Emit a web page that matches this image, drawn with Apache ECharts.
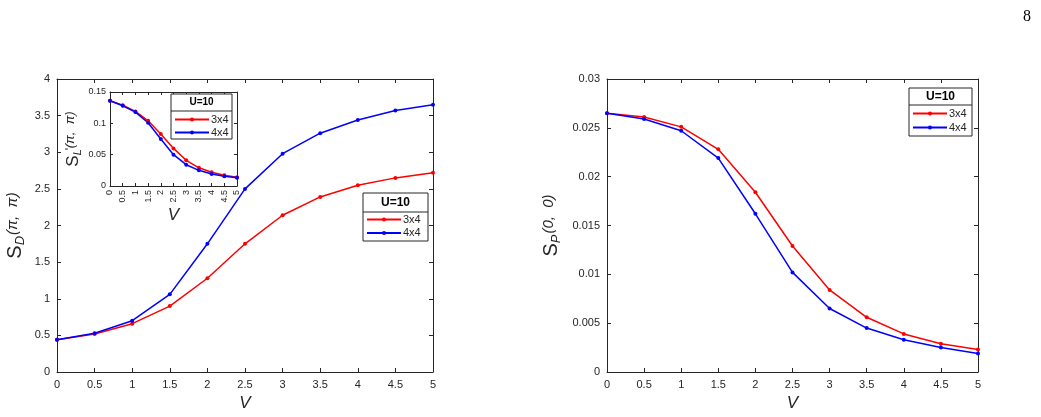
<!DOCTYPE html>
<html lang="en">
<head>
    <meta charset="UTF-8">
    <title>S_D and S_P vs V</title>
    <script src="https://cdn.jsdelivr.net/npm/echarts@6/dist/echarts.min.js"></script>
    <style>
        html, body { margin: 0; padding: 0; background: #fff; }
    </style>
</head>
<body>
    <div id="container" style="width: 1041px; height: 417px;"></div>

    <script>
        // V values shared by every panel
        var vValues = [0, 0.5, 1, 1.5, 2, 2.5, 3, 3.5, 4, 4.5, 5];

        // left main panel S_D(pi, pi)
        var sd3x4 = [0.44, 0.52, 0.66, 0.90, 1.28, 1.75, 2.14, 2.39, 2.55, 2.65, 2.72];
        var sd4x4 = [0.44, 0.53, 0.70, 1.06, 1.75, 2.50, 2.98, 3.26, 3.44, 3.57, 3.65];

        // inset S'_L(pi, pi)
        var sl3x4 = [0.136, 0.129, 0.119, 0.104, 0.083, 0.060, 0.041, 0.029, 0.022, 0.017, 0.014];
        var sl4x4 = [0.136, 0.128, 0.118, 0.101, 0.075, 0.050, 0.034, 0.025, 0.019, 0.0155, 0.013];

        // right panel S_P(0, 0)
        var sp3x4 = [0.0265, 0.0261, 0.0251, 0.0228, 0.0184, 0.0129, 0.0084, 0.0056, 0.0039, 0.0029, 0.0023];
        var sp4x4 = [0.0265, 0.0259, 0.0247, 0.0219, 0.0162, 0.0102, 0.0065, 0.0045, 0.0033, 0.0025, 0.0019];

        var seriesNames = ['3x4', '4x4'];
        var legendTitle = 'U=10';

        var font = 'Liberation Sans, Arial, sans-serif';
        var ink = '#262626';
        var red = '#ff0000';
        var blue = '#0000ff';

        function pairs(ys) {
            return vValues.map(function (v, i) { return [v, ys[i]]; });
        }

        // one value axis, with ticks pointing in (MATLAB box look)
        function axis(grid, pos, min, max, step, showLabel, extra) {
            var a = {
                type: 'value',
                gridIndex: grid,
                position: pos,
                min: min,
                max: max,
                interval: step,
                splitLine: { show: false },
                axisLine: { show: true, onZero: false, lineStyle: { color: ink, width: 1 } },
                axisTick: { show: true, inside: true, length: 4, lineStyle: { color: ink } },
                axisLabel: { show: showLabel, color: ink, fontSize: 11, fontFamily: font, margin: 7 }
            };
            for (var k in extra) a[k] = extra[k];
            return a;
        }

        function line(name, color, xi, yi, ys, z) {
            return {
                name: name,
                type: 'line',
                xAxisIndex: xi,
                yAxisIndex: yi,
                data: pairs(ys),
                symbol: 'circle',
                symbolSize: 4,
                color: color,
                lineStyle: { color: color, width: 1.5 },
                itemStyle: { color: color },
                animation: false,
                z: z
            };
        }

        function legend(left, top, gap) {
            return {
                data: seriesNames,
                orient: 'vertical',
                left: left,
                top: top,
                itemWidth: 34,
                itemHeight: 5,
                itemGap: gap,
                padding: 0,
                z: 100,
                selectedMode: false,
                textStyle: { color: ink, fontSize: 11, fontFamily: font, padding: [0, 0, 0, -3] }
            };
        }

        // frame, title and separator round a legend
        function legendBox(x, y, w, h, sepY, fs) {
            return [{
                type: 'rect',
                shape: { x: x, y: y, width: w, height: h },
                style: { fill: '#fff', stroke: ink, lineWidth: 1 },
                z: 50
            }, {
                type: 'line',
                shape: { x1: x, y1: sepY, x2: x + w, y2: sepY },
                style: { stroke: ink, lineWidth: 1 },
                z: 51
            }, {
                type: 'text',
                x: x + w / 2,
                y: (y + sepY) / 2,
                style: {
                    text: legendTitle, fill: '#000', font: 'bold ' + fs + 'px ' + font,
                    textAlign: 'center', textVerticalAlign: 'middle'
                },
                z: 51
            }];
        }

        var myChart = echarts.init(document.getElementById('container'), null, { renderer: 'canvas' });

        var titleRich = {
            s: { fontSize: 20, fontFamily: font, color: ink },
            sub: { fontSize: 13, fontFamily: font, fontStyle: 'italic', color: ink, padding: [10, 0, 0, 0] },
            p: { fontSize: 15, fontFamily: font, fontStyle: 'italic', color: ink, padding: [0, 0, 6, 1] }
        };
        var insetRich = {
            s: { fontSize: 17, fontFamily: font, color: ink },
            sub: { fontSize: 11, fontFamily: font, fontStyle: 'italic', color: ink, padding: [9, 0, 0, 0] },
            p: { fontSize: 13, fontFamily: font, fontStyle: 'italic', color: ink, padding: [0, 0, 6, 1] }
        };

        var option = {
            backgroundColor: '#fff',
            animation: false,
            grid: [
                { left: 57, top: 79, width: 376, height: 295 },
                { left: 110, top: 92, width: 127, height: 94, show: true, backgroundColor: '#fff', borderWidth: 0, z: 10 },
                { left: 607, top: 79, width: 371, height: 296 }
            ],
            xAxis: [
                axis(0, 'bottom', 0, 5, 0.5, true, {
                    name: 'V', nameLocation: 'middle', nameGap: 23,
                    nameTextStyle: { fontSize: 17, fontStyle: 'italic', fontFamily: font, color: ink }
                }),
                axis(0, 'top', 0, 5, 0.5, false, {}),
                axis(1, 'bottom', 0, 5, 0.5, true, {
                    name: 'V', nameLocation: 'middle', nameGap: 19, z: 12,
                    nameTextStyle: { fontSize: 17, fontStyle: 'italic', fontFamily: font, color: ink },
                    axisLabel: { show: true, rotate: 90, color: ink, fontSize: 9, fontFamily: font, margin: 4 },
                    axisTick: { show: true, inside: true, length: 3, lineStyle: { color: ink } }
                }),
                axis(1, 'top', 0, 5, 0.5, false, { z: 12, axisTick: { show: true, inside: true, length: 3, lineStyle: { color: ink } } }),
                axis(2, 'bottom', 0, 5, 0.5, true, {
                    name: 'V', nameLocation: 'middle', nameGap: 23,
                    nameTextStyle: { fontSize: 17, fontStyle: 'italic', fontFamily: font, color: ink }
                }),
                axis(2, 'top', 0, 5, 0.5, false, {})
            ],
            yAxis: [
                axis(0, 'left', 0, 4, 0.5, true, {
                    name: '{s|S}{sub|D}{p|(π,  π)}', nameLocation: 'middle', nameGap: 30,
                    nameTextStyle: { rich: titleRich }
                }),
                axis(0, 'right', 0, 4, 0.5, false, {}),
                axis(1, 'left', 0, 0.15, 0.05, true, {
                    name: '{s|S}{sub|L}{p|(π,  π)}', nameLocation: 'middle', nameGap: 27, z: 12,
                    nameTextStyle: { rich: insetRich },
                    axisLabel: { show: true, color: ink, fontSize: 9, fontFamily: font, margin: 4 },
                    axisTick: { show: true, inside: true, length: 3, lineStyle: { color: ink } }
                }),
                axis(1, 'right', 0, 0.15, 0.05, false, { z: 12, axisTick: { show: true, inside: true, length: 3, lineStyle: { color: ink } } }),
                axis(2, 'left', 0, 0.03, 0.005, true, {
                    name: '{s|S}{sub|P}{p|(0,  0)}', nameLocation: 'middle', nameGap: 44,
                    nameTextStyle: { rich: titleRich }
                }),
                axis(2, 'right', 0, 0.03, 0.005, false, {})
            ],
            legend: [
                legend(366, 214, 2.5),
                legend(174, 114, 2),
                legend(912, 108, 3)
            ],
            series: [
                line(seriesNames[0], red, 0, 0, sd3x4, 3),
                line(seriesNames[1], blue, 0, 0, sd4x4, 3),
                line(seriesNames[0], red, 2, 2, sl3x4, 20),
                line(seriesNames[1], blue, 2, 2, sl4x4, 20),
                line(seriesNames[0], red, 4, 4, sp3x4, 3),
                line(seriesNames[1], blue, 4, 4, sp4x4, 3)
            ],
            graphic: [].concat(
                legendBox(363, 193, 65, 48, 212, 12),
                legendBox(171, 94, 61, 45, 111, 10),
                legendBox(909, 88, 63, 48, 105, 12),
                [{
                    type: 'text',
                    x: 1027,
                    y: 17,
                    style: {
                        text: '8', fill: '#000', font: '16px Liberation Serif, DejaVu Serif, serif',
                        textAlign: 'center', textVerticalAlign: 'middle'
                    }
                }, {
                    // prime on the inset S
                    type: 'text',
                    x: 70,
                    y: 149,
                    rotation: Math.PI / 2,
                    style: { text: "'", fill: ink, font: '13px ' + font, textAlign: 'center', textVerticalAlign: 'middle' },
                    z: 60
                }]
            )
        };

        myChart.setOption(option, true);
    </script>
</body>
</html>
